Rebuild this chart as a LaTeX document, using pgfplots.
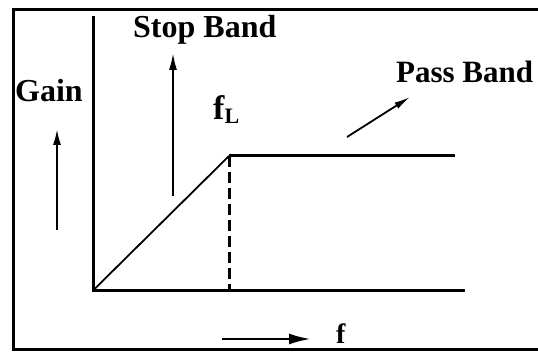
\documentclass[border=0pt]{standalone}
\usepackage{pgfplots}
\pgfplotsset{compat=1.18}
\usepackage{fontspec}
\setmainfont{Liberation Serif}
\usetikzlibrary{arrows.meta}
\begin{document}
\begin{tikzpicture}
\clip (0,0) rectangle (538pt,351pt);
\fill[white] (0,0) rectangle (538pt,351pt);
\begin{axis}[at={(0,0)},anchor=south west, scale only axis, width=538pt, height=351pt,
  xmin=0,xmax=538,ymin=0,ymax=351, hide axis, clip=false]
% axes
\addplot[black, line width=3pt, mark=none] coordinates {(93,335) (93,60.5) (465,60.5)};
% ramp
\addplot[black, line width=1.8pt, mark=none] coordinates {(93,60.5) (229,195)};
% pass band level
\addplot[black, line width=3pt, mark=none] coordinates {(229,195) (455,195)};
% cutoff dashed
\addplot[black, line width=3pt, mark=none, dash pattern=on 11pt off 5pt] coordinates {(229,195) (229,60.5)};
% arrows
\addplot[black, line width=2.6pt, mark=none, -{Latex[length=17pt,width=8pt]}] coordinates {(57,121) (57,223)};
\addplot[black, line width=2.6pt, mark=none, -{Latex[length=18pt,width=8pt]}] coordinates {(173,155) (173,299)};
\addplot[black, line width=1.8pt, mark=none, -{Latex[length=16pt,width=7pt]}] coordinates {(347,214) (410,254)};
\addplot[black, line width=2.6pt, mark=none, -{Latex[length=22pt,width=11pt]}] coordinates {(222,12) (311,12)};
% labels
\node[anchor=base west, inner sep=0pt, font=\fontsize{32}{32}\selectfont\bfseries] at (axis cs:15,249) {Gain};
\node[anchor=base west, inner sep=0pt, font=\fontsize{32}{32}\selectfont\bfseries] at (axis cs:133,313) {Stop Band};
\node[anchor=base west, inner sep=0pt, font=\fontsize{31}{31}\selectfont\bfseries] at (axis cs:396,268) {Pass Band};
\node[anchor=base west, inner sep=0pt, font=\fontsize{34}{34}\selectfont\bfseries] at (axis cs:213,231) {f\raisebox{-0.25ex}{\fontsize{22}{22}\selectfont L}};
\node[anchor=base west, inner sep=0pt, font=\fontsize{28}{28}\selectfont\bfseries] at (axis cs:336,8) {f};
% frame
\addplot[black, line width=3pt, mark=none] coordinates {(545,341.5) (13.5,341.5) (13.5,1.5) (545,1.5)};
\end{axis}
\end{tikzpicture}
\end{document}
